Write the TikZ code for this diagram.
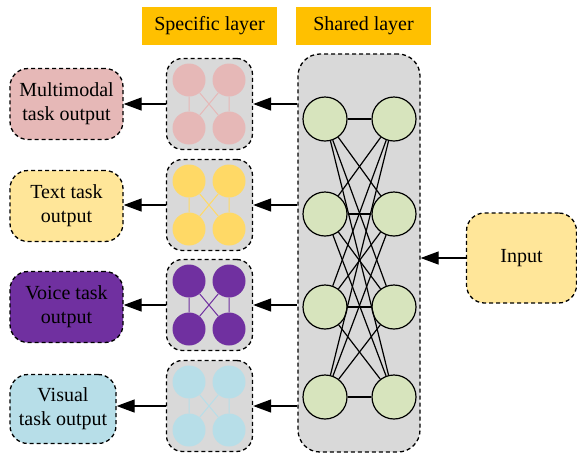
\documentclass[tikz,border=0pt]{standalone}
\usepackage{fontspec}
\newfontfamily\fb{Liberation Serif}
\usetikzlibrary{arrows.meta}

\definecolor{labelgold}{HTML}{FFC000}
\definecolor{panelgray}{HTML}{D9D9D9}
\definecolor{neurongreen}{HTML}{D7E4BD}
\definecolor{rosefill}{HTML}{E6B8B7}
\definecolor{creamfill}{HTML}{FFE699}
\definecolor{goldfill}{HTML}{FFD966}
\definecolor{violetfill}{HTML}{7030A0}
\definecolor{skyfill}{HTML}{B7DEE8}

\tikzset{
  txt/.style={font=\fb\fontsize{20}{24}\selectfont},
  dashbox/.style={draw=black, line width=1.3pt, dash pattern=on 4pt off 3pt},
  outbox/.style={dashbox, txt, rounded corners=18pt, align=center,
    minimum height=71pt, inner sep=0pt},
  specbox/.style={dashbox, fill=panelgray, rounded corners=16pt,
    minimum width=86pt, minimum height=91pt, inner sep=0pt},
  sharebox/.style={dashbox, fill=panelgray, rounded corners=22pt,
    minimum width=122pt, minimum height=398pt, inner sep=0pt},
  tag/.style={fill=labelgold, txt, minimum width=135pt, minimum height=38pt, inner sep=0pt},
  neuron/.style={circle, draw=black, line width=1.2pt, fill=neurongreen,
    minimum size=44pt, inner sep=0pt},
  dot/.style={circle, fill=#1, minimum size=33pt, inner sep=0pt},
  arr/.style={line width=1.3pt, -{Triangle[length=18pt,width=13pt]}},
}

\begin{document}
\begin{tikzpicture}[x=1pt,y=-1pt]
\useasboundingbox (0,0) rectangle (577,456);

% column headers
\node[tag] (tspec) at (209.5,26) {Specific layer};
\node[tag] (tshare) at (363.5,26) {Shared layer};

% shared layer panel with a fully connected pair of neuron columns
\node[sharebox] (sh) at (359,253) {};
\foreach \i/\y in {1/119,2/214,3/307,4/397}{
  \node[neuron] (L\i) at (325,\y) {};
  \node[neuron] (R\i) at (394,\y) {};
}
\foreach \i in {1,...,4}{
  \foreach \j in {1,...,4}{
    \draw[line width=1.2pt] (L\i) -- (R\j);
  }
}

% task specific panels
\foreach \k/\y/\c in {1/104/rosefill,2/205/goldfill,3/305/violetfill,4/406/skyfill}{
  \node[specbox] (sp\k) at (209.5,\y) {};
  \node[dot=\c] (a\k) at (189,\y-24) {};
  \node[dot=\c] (b\k) at (229,\y-24) {};
  \node[dot=\c] (c\k) at (189,\y+24) {};
  \node[dot=\c] (d\k) at (229,\y+24) {};
  \draw[\c, line width=1pt] (a\k) -- (c\k) (b\k) -- (d\k) (a\k) -- (d\k) (b\k) -- (c\k);
}

% task outputs
\node[outbox, fill=rosefill, minimum width=113pt] (o1) at (66.5,104) {Multimodal\\task output};
\node[outbox, fill=creamfill, minimum width=113pt] (o2) at (66.5,206) {Text task\\output};
\node[outbox, fill=violetfill, minimum width=113pt] (o3) at (66.5,307) {Voice task\\output};
\node[outbox, fill=skyfill, minimum width=106pt, minimum height=69pt] (o4) at (63,409) {Visual\\task output};

% input
\node[outbox, fill=creamfill, minimum width=110pt, minimum height=90pt] (in) at (521.5,258) {Input};

% connectors
\draw[arr] (in.west) -- (in.west -| sh.east);
\foreach \k in {1,...,4}{
  \draw[arr] (sh.west |- sp\k.east) -- (sp\k.east);
  \draw[arr] (sp\k.west) -- (sp\k.west -| o\k.east);
}
\end{tikzpicture}
\end{document}
